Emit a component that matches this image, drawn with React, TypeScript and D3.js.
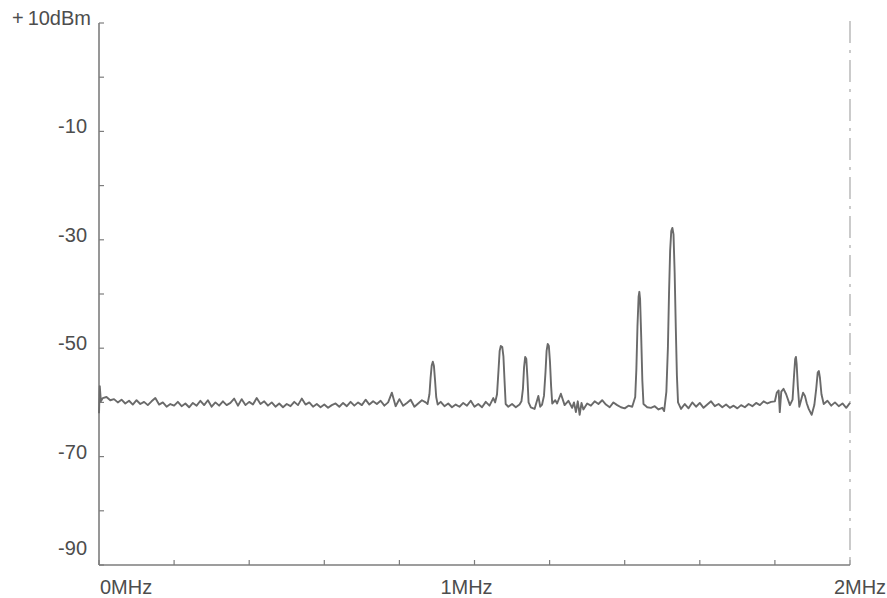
import React from "react";
import * as d3 from "d3";

// Spectrum trace: [frequency MHz, level dBm]
const trace: [number, number][] = [
  [0.0, -62.0], [0.002, -57.0], [0.005, -59.8], [0.01, -59.2], [0.02, -59.0], [0.03, -59.6],
  [0.04, -59.4], [0.05, -60.0], [0.06, -59.5], [0.07, -60.2], [0.08, -59.7], [0.09, -60.4],
  [0.1, -59.6], [0.11, -60.3], [0.12, -59.9], [0.13, -60.5], [0.14, -59.8], [0.15, -59.2],
  [0.16, -60.4], [0.17, -60.0], [0.18, -60.8], [0.19, -60.3], [0.2, -60.6], [0.21, -59.9],
  [0.22, -60.7], [0.23, -60.2], [0.24, -60.9], [0.25, -60.1], [0.26, -60.6], [0.27, -59.7],
  [0.28, -60.5], [0.29, -59.6], [0.3, -60.8], [0.31, -60.0], [0.32, -60.6], [0.33, -59.8],
  [0.34, -60.5], [0.35, -60.1], [0.36, -59.3], [0.37, -60.6], [0.38, -59.4], [0.39, -60.5],
  [0.4, -59.9], [0.41, -60.4], [0.42, -59.2], [0.43, -60.3], [0.44, -59.8], [0.45, -60.6],
  [0.46, -60.0], [0.47, -60.8], [0.48, -60.2], [0.49, -60.9], [0.5, -60.3], [0.51, -60.7],
  [0.52, -59.9], [0.53, -60.5], [0.54, -59.3], [0.55, -60.4], [0.56, -60.0], [0.57, -60.8],
  [0.58, -60.3], [0.59, -60.9], [0.6, -60.4], [0.61, -61.0], [0.62, -60.5], [0.63, -60.2],
  [0.64, -60.8], [0.65, -60.1], [0.66, -60.7], [0.67, -59.9], [0.68, -60.6], [0.69, -60.0],
  [0.7, -60.5], [0.71, -59.5], [0.72, -60.4], [0.73, -59.8], [0.74, -60.3], [0.75, -59.7],
  [0.76, -60.6], [0.77, -60.0], [0.78, -58.2], [0.79, -60.7], [0.8, -59.4], [0.81, -60.6],
  [0.82, -60.1], [0.83, -59.5], [0.84, -60.8], [0.85, -60.2], [0.86, -59.6], [0.87, -60.0],
  [0.875, -60.3], [0.88, -58.5], [0.883, -55.5], [0.886, -53.2], [0.889, -52.5], [0.892, -53.3],
  [0.895, -56.0], [0.898, -59.0], [0.902, -60.4], [0.91, -59.9], [0.92, -60.7], [0.93, -60.2],
  [0.94, -60.9], [0.95, -60.4], [0.96, -60.8], [0.97, -60.1], [0.98, -60.6], [0.99, -59.7],
  [1.0, -60.8], [1.01, -60.3], [1.02, -60.9], [1.03, -59.9], [1.04, -60.6], [1.05, -59.2],
  [1.055, -60.0], [1.06, -58.5], [1.064, -54.0], [1.067, -50.5], [1.07, -49.6], [1.074, -49.8],
  [1.077, -51.5], [1.08, -56.0], [1.083, -60.3], [1.09, -60.8], [1.1, -60.3], [1.11, -60.9],
  [1.12, -60.4], [1.125, -59.8], [1.129, -57.5], [1.132, -53.5], [1.135, -51.6], [1.138, -52.0],
  [1.141, -55.5], [1.144, -60.0], [1.15, -60.9], [1.16, -61.2], [1.17, -58.8], [1.175, -60.8],
  [1.18, -60.4], [1.185, -58.8], [1.189, -54.5], [1.192, -50.5], [1.195, -49.2], [1.198, -49.6],
  [1.201, -52.5], [1.204, -57.0], [1.207, -60.2], [1.215, -59.6], [1.22, -60.2], [1.23, -58.4],
  [1.24, -60.5], [1.25, -59.7], [1.26, -61.0], [1.265, -60.0], [1.27, -61.8], [1.275, -59.8],
  [1.28, -62.3], [1.285, -60.1], [1.29, -61.3], [1.3, -60.2], [1.31, -60.6], [1.32, -59.8],
  [1.33, -60.3], [1.34, -59.6], [1.35, -60.4], [1.36, -60.9], [1.37, -60.0], [1.38, -60.5],
  [1.39, -60.9], [1.4, -61.1], [1.41, -60.6], [1.42, -60.8], [1.428, -59.0], [1.431, -54.0],
  [1.434, -46.0], [1.437, -40.5], [1.439, -39.6], [1.441, -41.0], [1.444, -48.0], [1.447, -56.0],
  [1.45, -60.3], [1.46, -60.9], [1.47, -61.0], [1.48, -60.7], [1.49, -61.3], [1.5, -61.0],
  [1.505, -61.6], [1.511, -58.0], [1.515, -50.0], [1.518, -40.0], [1.521, -32.0], [1.524, -28.4],
  [1.527, -27.8], [1.53, -29.0], [1.533, -36.0], [1.536, -46.0], [1.539, -55.0], [1.542, -60.0],
  [1.55, -61.2], [1.56, -60.3], [1.57, -61.1], [1.58, -60.0], [1.59, -60.8], [1.6, -60.1],
  [1.61, -61.0], [1.62, -60.4], [1.63, -59.8], [1.64, -60.7], [1.65, -60.3], [1.66, -60.9],
  [1.67, -60.4], [1.68, -61.0], [1.69, -60.6], [1.7, -61.1], [1.71, -60.5], [1.72, -60.9],
  [1.73, -60.3], [1.74, -60.7], [1.75, -60.1], [1.76, -60.5], [1.77, -59.8], [1.78, -60.2],
  [1.79, -59.9], [1.8, -59.8], [1.805, -58.2], [1.81, -57.8], [1.813, -61.8], [1.817, -58.0],
  [1.823, -57.5], [1.83, -58.5], [1.84, -60.5], [1.847, -59.5], [1.851, -55.0], [1.854, -52.0],
  [1.856, -51.6], [1.858, -53.0], [1.861, -57.0], [1.865, -60.8], [1.87, -59.5], [1.875, -58.2],
  [1.88, -58.8], [1.885, -60.2], [1.89, -61.2], [1.898, -62.3], [1.905, -60.5], [1.91, -57.5],
  [1.914, -54.5], [1.917, -54.2], [1.92, -55.5], [1.924, -58.5], [1.93, -60.3], [1.94, -59.7],
  [1.95, -60.6], [1.96, -60.0], [1.97, -60.7], [1.98, -60.2], [1.99, -61.0], [2.0, -60.1],
];

const yTickValues: number[] = [10, 0, -10, -20, -30, -40, -50, -60, -70, -80, -90];
const yLabelValues: number[] = [10, -10, -30, -50, -70, -90];
const yLabelTexts: string[] = ["+10dBm", "-10", "-30", "-50", "-70", "-90"];
const xTickValues: number[] = [0, 0.2, 0.4, 0.6, 0.8, 1.0, 1.2, 1.4, 1.6, 1.8, 2.0];
const xLabelValues: number[] = [0, 1, 2];
const xLabelTexts: string[] = ["0MHz", "1MHz", "2MHz"];

const W = 887;
const H = 598;
const FONT = "'Liberation Sans', Arial, Helvetica, sans-serif";

export default function App() {
  const x = d3.scaleLinear().domain([0, 2]).range([99, 850]);
  const y = d3.scaleLinear().domain([-90, 10]).range([565, 23]);
  const line = d3
    .line<[number, number]>()
    .x((d) => x(d[0]))
    .y((d) => y(d[1]));

  const axisColor = "#7d7d7d";
  const textColor = "#4d4d4d";

  return (
    <svg
      width={W}
      height={H}
      style={{ position: "absolute", left: 0, top: 0, background: "#fff" }}
    >
      {/* right dashed boundary */}
      <line
        x1={x(2)}
        x2={x(2)}
        y1={y(10) - 2}
        y2={y(-90)}
        stroke="#a8a8a8"
        strokeWidth={1.2}
        strokeDasharray="22,7,3,7"
      />
      {/* left axis */}
      <line x1={x(0)} x2={x(0)} y1={y(10)} y2={y(-90)} stroke={axisColor} strokeWidth={1.6} />
      {yTickValues.map((v) => (
        <line
          key={"yt" + v}
          x1={x(0)}
          x2={x(0) + 5}
          y1={y(v)}
          y2={y(v)}
          stroke={axisColor}
          strokeWidth={1.2}
        />
      ))}
      {/* bottom axis */}
      <line x1={x(0)} x2={x(2)} y1={y(-90)} y2={y(-90)} stroke={axisColor} strokeWidth={1.6} />
      {xTickValues.map((v) => (
        <line
          key={"xt" + v}
          x1={x(v)}
          x2={x(v)}
          y1={y(-90)}
          y2={y(-90) - 5}
          stroke={axisColor}
          strokeWidth={1.2}
        />
      ))}
      {/* trace */}
      <path
        d={line(trace) || ""}
        fill="none"
        stroke="#6a6a6a"
        strokeWidth={1.9}
        strokeLinejoin="round"
      />
      {/* y labels */}
      {yLabelValues.map((v, i) => (
        <text
          key={"yl" + v}
          x={i === 0 ? 91 : 87}
          y={y(v) + (i === yLabelValues.length - 1 ? -10 : 2)}
          textAnchor="end"
          fontFamily={FONT}
          fontSize={20}
          fill={textColor}
        >
          {i === 0 ? (
            <>
              <tspan>+</tspan>
              <tspan dx={4}>{yLabelTexts[i].slice(1)}</tspan>
            </>
          ) : (
            yLabelTexts[i]
          )}
        </text>
      ))}
      {/* x labels */}
      {xLabelValues.map((v, i) => (
        <text
          key={"xl" + v}
          x={x(v) + (i === 0 ? 1 : i === 1 ? -8 : 10)}
          y={594}
          textAnchor={i === 0 ? "start" : "middle"}
          fontFamily={FONT}
          fontSize={20}
          fill={textColor}
        >
          {xLabelTexts[i]}
        </text>
      ))}
    </svg>
  );
}
